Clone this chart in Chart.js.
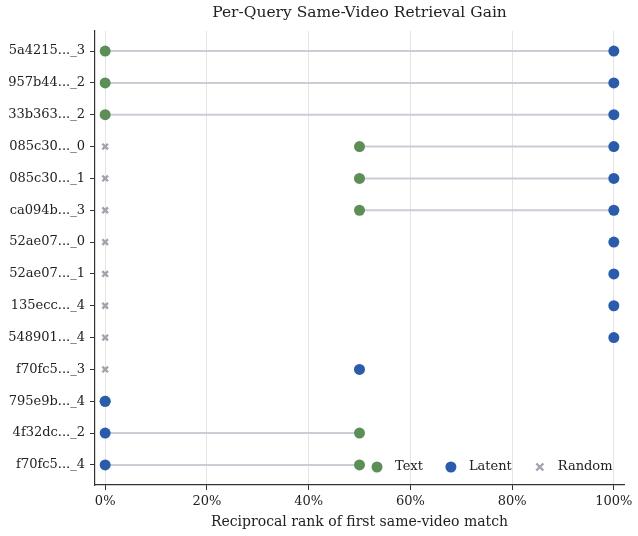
<!DOCTYPE html>
<html>
<head>
<meta charset="utf-8">
<script src="https://cdn.jsdelivr.net/npm/chart.js@4.4.1/dist/chart.umd.min.js"></script>
<style>
    html, body { margin: 0; padding: 0; background: #fff; }
    #wrap { width: 638px; height: 536px; }
</style>
</head>
<body>
<div id="wrap"><canvas id="chart" width="638" height="536"></canvas></div>
<script>
const queries = ['5a4215..._3', '957b44..._2', '33b363..._2', '085c30..._0', '085c30..._1', 'ca094b..._3',
    '52ae07..._0', '52ae07..._1', '135ecc..._4', '548901..._4', 'f70fc5..._3', '795e9b..._4', '4f32dc..._2', 'f70fc5..._4'];
const textRR = [0, 0, 0, 50, 50, 50, null, null, null, null, null, 0, 50, 50];
const latentRR = [100, 100, 100, 100, 100, 100, 100, 100, 100, 100, 50, 0, 0, 0];
const randomRR = [null, null, null, 0, 0, 0, 0, 0, 0, 0, 0, null, null, null];
const xTicks = [0, 20, 40, 60, 80, 100];

const COLORS = {
    text: '#5b8f55',
    latent: '#2b5cab',
    random: '#a0a4ad',
    stem: '#c9cdd4',
    axis: '#333333'
};
const FONT = "'DejaVu Serif', serif";

const toPoints = (values) => {
    const pts = [];
    values.forEach((v, i) => {
        if (v !== null) pts.push({ x: v, y: i });
    });
    return pts;
};

// gray connector between text and latent for each query
const stemPlugin = {
    id: 'stems',
    beforeDatasetsDraw(chart) {
        const { ctx, scales } = chart;
        ctx.save();
        ctx.strokeStyle = COLORS.stem;
        ctx.lineWidth = 2;
        for (let i = 0; i < queries.length; i++) {
            if (textRR[i] === null || latentRR[i] === null) continue;
            const y = scales.y.getPixelForValue(i);
            ctx.beginPath();
            ctx.moveTo(scales.x.getPixelForValue(textRR[i]), y);
            ctx.lineTo(scales.x.getPixelForValue(latentRR[i]), y);
            ctx.stroke();
        }
        ctx.restore();
    }
};

// legend inside the axes, lower right
const innerLegend = {
    id: 'innerLegend',
    afterDraw(chart) {
        const { ctx, chartArea } = chart;
        const y = chartArea.bottom - 18;
        let x = chartArea.left + 282;
        ctx.save();
        ctx.font = `13px ${FONT}`;
        ctx.textBaseline = 'middle';
        chart.data.datasets.forEach(ds => {
            ctx.fillStyle = ds.backgroundColor;
            ctx.strokeStyle = ds.borderColor;
            if (ds.pointStyle === 'crossRot') {
                ctx.lineWidth = 2.4;
                ctx.beginPath();
                ctx.moveTo(x - 3.5, y - 3.5); ctx.lineTo(x + 3.5, y + 3.5);
                ctx.moveTo(x - 3.5, y + 3.5); ctx.lineTo(x + 3.5, y - 3.5);
                ctx.stroke();
            } else {
                ctx.beginPath();
                ctx.arc(x, y, 5.5, 0, Math.PI * 2);
                ctx.fill();
            }
            ctx.fillStyle = '#222';
            ctx.fillText(ds.label, x + 18, y);
            x += 18 + ctx.measureText(ds.label).width + 28;
        });
        ctx.restore();
    }
};

new Chart(document.getElementById('chart'), {
    type: 'scatter',
    data: {
        datasets: [{
            label: 'Text',
            data: toPoints(textRR),
            backgroundColor: COLORS.text,
            borderColor: COLORS.text,
            pointStyle: 'circle',
            pointRadius: 5.5,
            borderWidth: 0,
            order: 1
        }, {
            label: 'Latent',
            data: toPoints(latentRR),
            backgroundColor: COLORS.latent,
            borderColor: COLORS.latent,
            pointStyle: 'circle',
            pointRadius: 5.5,
            borderWidth: 0,
            order: 0
        }, {
            label: 'Random',
            data: toPoints(randomRR),
            backgroundColor: COLORS.random,
            borderColor: COLORS.random,
            pointStyle: 'crossRot',
            pointRadius: 4,
            borderWidth: 2.4,
            order: 2
        }]
    },
    options: {
        responsive: false,
        animation: false,
        layout: { padding: { left: 0, right: 14, top: 0, bottom: 0 } },
        plugins: {
            legend: { display: false },
            tooltip: { enabled: false },
            title: {
                display: true,
                text: 'Per-Query Same-Video Retrieval Gain',
                fullSize: false,
                color: '#222',
                font: { family: FONT, size: 15.5, weight: 'normal' },
                padding: { top: 3.5, bottom: 8.9 }
            }
        },
        scales: {
            x: {
                type: 'linear',
                min: -2,
                max: 102,
                afterBuildTicks: (scale) => { scale.ticks = xTicks.map(v => ({ value: v })); },
                afterFit: (scale) => { scale.height = 51; },
                ticks: {
                    callback: (v) => `${v}%`,
                    color: '#222',
                    font: { family: FONT, size: 13 },
                    padding: 4,
                    maxRotation: 0
                },
                grid: {
                    color: '#e4e4e4',
                    lineWidth: 1,
                    tickColor: COLORS.axis,
                    tickLength: 5
                },
                border: { color: COLORS.axis, width: 1.2 },
                title: {
                    display: true,
                    text: 'Reciprocal rank of first same-video match',
                    color: '#222',
                    font: { family: FONT, size: 14 },
                    padding: { top: 2, bottom: 5 }
                }
            },
            y: {
                type: 'linear',
                reverse: true,
                min: -0.63,
                max: queries.length - 1 + 0.63,
                afterBuildTicks: (scale) => { scale.ticks = queries.map((q, i) => ({ value: i })); },
                afterFit: (scale) => { scale.width = 95; },
                ticks: {
                    callback: (v) => queries[v],
                    color: '#222',
                    font: { family: FONT, size: 13 },
                    padding: 5
                },
                grid: {
                    drawOnChartArea: false,
                    tickColor: COLORS.axis,
                    tickLength: 5
                },
                border: { color: COLORS.axis, width: 1.2 }
            }
        }
    },
    plugins: [stemPlugin, innerLegend]
});
</script>
</body>
</html>
